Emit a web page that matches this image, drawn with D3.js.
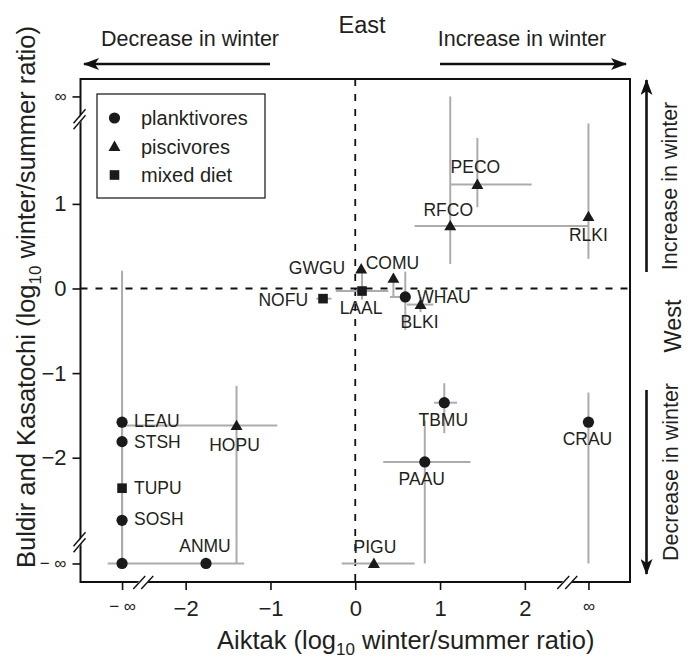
<!DOCTYPE html>
<html>
<head>
<meta charset="utf-8">
<script src="https://cdn.jsdelivr.net/npm/d3@7"></script>
<style>
  body { margin: 0; background: #fff; }
  text { font-family: "Liberation Sans", Arial, sans-serif; fill: #231f20; }
</style>
</head>
<body>
<script>
// species codes and diet group
const species = ["PECO", "RFCO", "RLKI", "COMU", "GWGU", "LAAL", "NOFU", "WHAU", "BLKI", "TBMU",
                 "CRAU", "PAAU", "PIGU", "HOPU", "ANMU", "LEAU", "STSH", "TUPU", "SOSH", ""];
const diet = ["pisc", "pisc", "pisc", "pisc", "pisc", "mixed", "mixed", "plank", "pisc", "plank",
              "plank", "plank", "pisc", "pisc", "plank", "plank", "plank", "mixed", "plank", "plank"];

// log10 winter/summer ratio, Aiktak (x) and Buldir+Kasatochi (y); Infinity = only one season
const xVal = [1.44, 1.12, Infinity, 0.45, 0.07, 0.08, -0.38, 0.59, 0.77, 1.05,
              Infinity, 0.82, 0.22, -1.40, -1.76, -Infinity, -Infinity, -Infinity, -Infinity, -Infinity];
const yVal = [1.23, 0.74, 0.85, 0.12, 0.23, -0.03, -0.12, -0.10, -0.19, -1.35,
              -1.58, -2.05, -Infinity, -1.62, -Infinity, -1.58, -1.81, -2.36, -2.74, -Infinity];

// error bar ranges (null = none drawn)
const xLow  = [1.13, 0.70, null, null, null, -0.23, -0.46, 0.41, 0.61, 0.93,
               null, 0.33, -0.16, -Infinity, -2.92, null, null, null, null, null];
const xHigh = [2.08, Infinity, null, null, null, 0.39, -0.28, 0.65, 0.92, 1.20,
               null, 1.36, 0.70, -0.92, -1.31, null, null, null, null, null];
const yLow  = [0.96, 0.29, 0.35, -0.10, null, -0.13, null, -0.49, -0.28, -1.71,
               -Infinity, -Infinity, null, -Infinity, null, -Infinity, -Infinity, -Infinity, -Infinity, null];
const yHigh = [1.78, Infinity, 1.95, 0.12, null, 0.18, null, 0.20, -0.10, -1.12,
               -1.23, -1.56, null, -1.15, null, -1.35, -1.45, -1.50, 0.21, null];

const xTickVals = [-Infinity, -2, -1, 0, 1, 2, Infinity];
const yTickVals = [-Infinity, -2, -1, 0, 1, Infinity];
const legendLabels = ["planktivores", "piscivores", "mixed diet"];
const legendDiets = ["plank", "pisc", "mixed"];

// where each label sits relative to its point: [anchor, dx, dy]
const labelPlace = {
  PECO: ["middle", -2, -11], RFCO: ["middle", -2, -10], RLKI: ["middle", 0, 24],
  COMU: ["middle", -1, -9], GWGU: ["end", -16, 5], LAAL: ["middle", -1, 23],
  NOFU: ["end", -15, 7], WHAU: ["start", 12, 6], BLKI: ["middle", -1, 23],
  TBMU: ["middle", -1, 23], CRAU: ["middle", -1, 23], PAAU: ["middle", -3, 23],
  PIGU: ["middle", 1, -10], HOPU: ["middle", -2, 25], ANMU: ["middle", -1, -11],
  LEAU: ["start", 12, 5], STSH: ["start", 12, 6], TUPU: ["start", 12, 6], SOSH: ["start", 12, 5]
};

const W = 692, H = 658;
const box = { left: 80.5, right: 630, top: 79, bottom: 582 };
const X_INF = 2.75, Y_INF_TOP = 2.27, Y_INF_BOT = -3.25;

const svg = d3.select("body").append("svg")
  .attr("width", W).attr("height", H);

const x = d3.scaleLinear().domain([-3.24, 3.24]).range([box.left, box.right]);
const y = d3.scaleLinear().domain([-3.469, 2.476]).range([box.bottom, box.top]);
const fx = v => x(v === Infinity ? X_INF : v === -Infinity ? -X_INF : v);
const fy = v => y(v === Infinity ? Y_INF_TOP : v === -Infinity ? Y_INF_BOT : v);

// zero reference lines
svg.append("line")
  .attr("x1", x(0)).attr("x2", x(0)).attr("y1", box.top).attr("y2", box.bottom)
  .attr("stroke", "#111").attr("stroke-width", 1.8).attr("stroke-dasharray", "7,8");
svg.append("line")
  .attr("x1", box.left).attr("x2", box.right).attr("y1", y(0)).attr("y2", y(0))
  .attr("stroke", "#111").attr("stroke-width", 1.8).attr("stroke-dasharray", "7,8");

const idx = d3.range(species.length);

// error bars
const bars = svg.append("g").attr("stroke", "#acacac").attr("stroke-width", 2);
bars.selectAll(".hbar")
  .data(idx.filter(i => xLow[i] !== null))
  .enter().append("line")
  .attr("x1", i => fx(xLow[i])).attr("x2", i => fx(xHigh[i]))
  .attr("y1", i => fy(yVal[i])).attr("y2", i => fy(yVal[i]));
bars.selectAll(".vbar")
  .data(idx.filter(i => yLow[i] !== null))
  .enter().append("line")
  .attr("x1", i => fx(xVal[i])).attr("x2", i => fx(xVal[i]))
  .attr("y1", i => fy(yLow[i])).attr("y2", i => fy(yHigh[i]));

// marks
function drawMark(sel, d) {
  if (d === "plank") {
    sel.append("circle").attr("r", 5.6);
  } else if (d === "pisc") {
    sel.append("path").attr("d", d3.symbol(d3.symbolTriangle, 62)()).attr("transform", "translate(0,1)");
  } else {
    sel.append("rect").attr("x", -4.8).attr("y", -4.8).attr("width", 9.6).attr("height", 9.6);
  }
}
const pts = svg.append("g").attr("fill", "#1a1a1a");
idx.forEach(i => {
  const g = pts.append("g").attr("transform", `translate(${fx(xVal[i])},${fy(yVal[i])})`);
  drawMark(g, diet[i]);
});

// labels
svg.append("g").selectAll("text")
  .data(idx.filter(i => species[i] !== ""))
  .enter().append("text")
  .attr("x", i => fx(xVal[i]) + labelPlace[species[i]][1])
  .attr("y", i => fy(yVal[i]) + labelPlace[species[i]][2])
  .attr("text-anchor", i => labelPlace[species[i]][0])
  .attr("font-size", 17.5)
  .text(i => species[i]);

// frame
svg.append("rect")
  .attr("x", box.left).attr("y", box.top)
  .attr("width", box.right - box.left).attr("height", box.bottom - box.top)
  .attr("fill", "none").attr("stroke", "#111").attr("stroke-width", 2);

// axes
const infFmt = v => v === X_INF || v === Y_INF_TOP ? "∞" : (v === -X_INF || v === Y_INF_BOT ? "− ∞" : d3.format("")(v));
const xAxis = svg.append("g")
  .attr("transform", `translate(0,${box.bottom})`)
  .call(d3.axisBottom(x)
    .tickValues(xTickVals.map(v => v === Infinity ? X_INF : v === -Infinity ? -X_INF : v))
    .tickFormat(infFmt).tickSize(8).tickPadding(10));
const yAxis = svg.append("g")
  .attr("transform", `translate(${box.left},0)`)
  .call(d3.axisLeft(y)
    .tickValues(yTickVals.map(v => v === Infinity ? Y_INF_TOP : v === -Infinity ? Y_INF_BOT : v))
    .tickFormat(infFmt).tickSize(8).tickPadding(6));
[xAxis, yAxis].forEach(a => {
  a.select(".domain").remove();
  a.selectAll("line").attr("stroke", "#111").attr("stroke-width", 1.6);
  a.selectAll("text")
    .attr("font-family", '"Liberation Sans", Arial, sans-serif')
    .attr("fill", "#231f20")
    .attr("font-size", function () { return this.textContent.includes("∞") ? 17 : 22; });
});

// axis breaks
function yBreak(v) {
  const cy = y(v), cx = box.left;
  svg.append("polygon")
    .attr("points", `${cx - 3},${cy + 7} ${cx + 3},${cy - 1} ${cx + 3},${cy - 7} ${cx - 3},${cy + 1}`)
    .attr("fill", "#fff");
  [-3, 3].forEach(o => svg.append("line")
    .attr("x1", cx - 7).attr("y1", cy + o + 7).attr("x2", cx + 5).attr("y2", cy + o - 7)
    .attr("stroke", "#111").attr("stroke-width", 1.4));
}
function xBreak(v) {
  const cx = x(v), cy = box.bottom;
  svg.append("polygon")
    .attr("points", `${cx - 8},${cy + 3} ${cx + 2},${cy + 3} ${cx + 8},${cy - 3} ${cx - 2},${cy - 3}`)
    .attr("fill", "#fff");
  [-4, 4].forEach(o => svg.append("line")
    .attr("x1", cx + o - 6).attr("y1", cy + 7).attr("x2", cx + o + 6).attr("y2", cy - 6)
    .attr("stroke", "#111").attr("stroke-width", 1.4));
}
yBreak(2.0);
yBreak(-3.0);
xBreak(-2.5);
xBreak(2.5);

// legend
const leg = svg.append("g");
leg.append("rect")
  .attr("x", 97).attr("y", 94).attr("width", 168).attr("height", 104)
  .attr("fill", "#fff").attr("stroke", "#111").attr("stroke-width", 1.2);
legendLabels.forEach((lab, k) => {
  const ry = 118 + k * 28.5;
  const g = leg.append("g").attr("transform", `translate(114.5,${ry})`).attr("fill", "#1a1a1a");
  drawMark(g, legendDiets[k]);
  leg.append("text").attr("x", 141).attr("y", ry + 7).attr("font-size", 20).text(lab);
});

// axis titles
const xt = svg.append("text").attr("x", 217).attr("y", 649).attr("font-size", 25.5);
xt.append("tspan").text("Aiktak (log");
xt.append("tspan").attr("font-size", 17).attr("dy", 6).text("10");
xt.append("tspan").attr("dy", -6).text(" winter/summer ratio)");

const yt = svg.append("text")
  .attr("transform", "translate(35,297) rotate(-90)")
  .attr("text-anchor", "middle").attr("font-size", 25.5);
yt.append("tspan").text("Buldir and Kasatochi (log");
yt.append("tspan").attr("font-size", 17).attr("dy", 6).text("10");
yt.append("tspan").attr("dy", -6).text(" winter/summer ratio)");

// direction arrows and notes
const defs = svg.append("defs");
defs.append("marker")
  .attr("id", "head").attr("markerUnits", "userSpaceOnUse")
  .attr("viewBox", "0 0 16 12").attr("markerWidth", 16).attr("markerHeight", 12)
  .attr("refX", 15).attr("refY", 6).attr("orient", "auto")
  .append("path").attr("d", "M0,0 L16,6 L0,12 L4,6 Z").attr("fill", "#111");

function arrow(x1, y1, x2, y2) {
  svg.append("line")
    .attr("x1", x1).attr("y1", y1).attr("x2", x2).attr("y2", y2)
    .attr("stroke", "#111").attr("stroke-width", 2.6).attr("marker-end", "url(#head)");
}
arrow(270, 64, 84, 64);
arrow(440, 64, 626, 64);
arrow(646.5, 272, 646.5, 80);
arrow(646.5, 390, 646.5, 574);

svg.append("text").attr("x", 362).attr("y", 33).attr("text-anchor", "middle")
  .attr("font-size", 23.5).text("East");
svg.append("text").attr("x", 190).attr("y", 46).attr("text-anchor", "middle")
  .attr("font-size", 21.5).text("Decrease in winter");
svg.append("text").attr("x", 522).attr("y", 46).attr("text-anchor", "middle")
  .attr("font-size", 21.5).text("Increase in winter");
svg.append("text").attr("transform", "translate(677,186) rotate(-90)").attr("text-anchor", "middle")
  .attr("font-size", 21.5).text("Increase in winter");
svg.append("text").attr("transform", "translate(681,326) rotate(-90)").attr("text-anchor", "middle")
  .attr("font-size", 23.5).text("West");
svg.append("text").attr("transform", "translate(678,472) rotate(-90)").attr("text-anchor", "middle")
  .attr("font-size", 21.5).text("Decrease in winter");
</script>
</body>
</html>
